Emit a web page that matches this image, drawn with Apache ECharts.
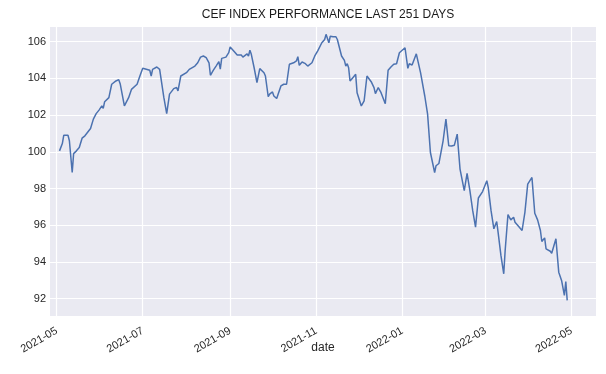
<!DOCTYPE html>
<html>
<head>
<meta charset="utf-8">
<script src="https://cdn.jsdelivr.net/npm/echarts@6/dist/echarts.min.js"></script>
<style>
html,body{margin:0;padding:0;background:#fff;}
#chart{width:606px;height:374px;}
</style>
</head>
<body>
<div id="chart"></div>
<script>
const dates = [
'2021-05-03','2021-05-05','2021-05-06','2021-05-09','2021-05-10','2021-05-12','2021-05-13','2021-05-15','2021-05-17','2021-05-18',
'2021-05-19','2021-05-21','2021-05-25','2021-05-27','2021-05-29','2021-05-31','2021-06-02','2021-06-03','2021-06-04','2021-06-07',
'2021-06-09','2021-06-12','2021-06-14','2021-06-15','2021-06-18','2021-06-21','2021-06-23','2021-06-27','2021-06-29','2021-07-01',
'2021-07-06','2021-07-07','2021-07-08','2021-07-11','2021-07-13','2021-07-16','2021-07-18','2021-07-20','2021-07-23','2021-07-25',
'2021-07-26','2021-07-28','2021-07-29','2021-08-01','2021-08-03','2021-08-07','2021-08-09','2021-08-11','2021-08-13','2021-08-15',
'2021-08-17','2021-08-18','2021-08-20','2021-08-22','2021-08-24','2021-08-25','2021-08-26','2021-08-29','2021-08-31','2021-09-01',
'2021-09-02','2021-09-04','2021-09-06','2021-09-09','2021-09-10','2021-09-13','2021-09-14','2021-09-15','2021-09-16','2021-09-18',
'2021-09-20','2021-09-22','2021-09-25','2021-09-26','2021-09-28','2021-09-29','2021-09-30','2021-10-01','2021-10-02','2021-10-04',
'2021-10-05','2021-10-06','2021-10-07','2021-10-09','2021-10-11','2021-10-13','2021-10-16','2021-10-18','2021-10-19','2021-10-20',
'2021-10-22','2021-10-24','2021-10-26','2021-10-27','2021-10-29','2021-10-31','2021-11-02','2021-11-03','2021-11-05','2021-11-07',
'2021-11-08','2021-11-10','2021-11-11','2021-11-13','2021-11-15','2021-11-16','2021-11-19','2021-11-21','2021-11-22','2021-11-23',
'2021-11-24','2021-11-25','2021-11-27','2021-11-29','2021-11-30','2021-12-01','2021-12-03','2021-12-05','2021-12-07','2021-12-08',
'2021-12-10','2021-12-12','2021-12-13','2021-12-15','2021-12-16','2021-12-17','2021-12-20','2021-12-22','2021-12-24','2021-12-26',
'2021-12-28','2021-12-30','2022-01-03','2022-01-05','2022-01-06','2022-01-08','2022-01-09','2022-01-11','2022-01-14','2022-01-17',
'2022-01-19','2022-01-21','2022-01-24','2022-01-25','2022-01-27','2022-01-30','2022-02-01','2022-02-03','2022-02-05','2022-02-07',
'2022-02-09','2022-02-11','2022-02-14','2022-02-16','2022-02-18','2022-02-20','2022-02-22','2022-02-24','2022-02-27','2022-03-02',
'2022-03-03','2022-03-05','2022-03-07','2022-03-09','2022-03-10','2022-03-12','2022-03-14','2022-03-15','2022-03-17','2022-03-19',
'2022-03-21','2022-03-22','2022-03-24','2022-03-27','2022-03-29','2022-03-31','2022-04-03','2022-04-05','2022-04-07','2022-04-09',
'2022-04-10','2022-04-12','2022-04-13','2022-04-16','2022-04-17','2022-04-20','2022-04-22','2022-04-24','2022-04-26','2022-04-27',
'2022-04-28'
];
const values = [
100.05,100.45,100.90,100.90,100.60,98.87,99.90,100.05,100.23,100.18,
100.74,100.87,101.27,101.78,102.08,102.27,102.50,102.37,102.73,102.95,
103.68,103.86,103.93,103.71,102.50,102.95,103.40,103.68,104.13,104.55,
104.44,104.13,104.49,104.62,104.49,102.95,102.08,103.14,103.44,103.50,
103.32,104.13,104.08,104.31,104.49,104.67,104.85,105.16,105.22,105.13,
104.85,104.17,104.44,104.67,104.91,104.50,105.09,105.16,105.40,105.71,
105.67,105.45,105.27,105.27,105.16,105.34,105.22,105.53,105.31,104.58,
103.77,104.53,104.31,104.13,103.00,103.14,103.04,103.26,103.04,102.90,
103.14,103.04,103.59,103.68,103.68,104.77,104.85,104.95,105.18,104.71,
104.89,104.82,104.67,104.58,104.85,105.22,105.49,105.53,105.94,106.12,
106.40,105.94,106.30,106.27,106.27,106.12,105.22,104.98,104.67,104.80,
104.58,103.86,104.04,104.22,103.22,103.17,102.50,102.77,104.13,104.04,
103.82,103.50,103.17,103.50,103.46,103.22,102.62,104.44,104.62,104.77,
104.80,105.40,105.67,104.55,104.80,104.73,104.71,105.34,104.31,103.04,
102.05,99.96,98.87,99.24,99.36,100.60,101.78,100.33,100.31,100.36,
100.96,99.06,97.88,98.82,97.88,96.79,95.89,97.48,97.83,98.42,
98.06,96.79,95.80,96.20,95.61,94.35,93.35,94.62,96.58,96.29,
96.43,96.16,95.98,95.71,96.70,98.24,98.60,96.65,96.29,95.71,
95.11,95.31,94.71,94.58,94.47,95.26,93.44,92.99,92.17,92.93,
91.90
];
const xTicks = ['2021-05-01','2021-07-01','2021-09-01','2021-11-01','2022-01-01','2022-03-01','2022-05-01'];
const yTicks = [92,94,96,98,100,102,104,106];
const titleText = 'CEF INDEX PERFORMANCE LAST 251 DAYS';
const xName = 'date';

const FONT = '"Liberation Sans", Arial, sans-serif';
const TXT = '#262626';
const ts = s => { const p = s.split(/[- :]/).map(Number); return new Date(p[0], p[1]-1, p[2], p[3]||0, p[4]||0).getTime(); };
const pad = n => (n < 10 ? '0' : '') + n;

const chart = echarts.init(document.getElementById('chart'), null, {renderer: 'canvas'});

const xTickTs = xTicks.map(ts);
const gridLines = [];
xTickTs.forEach(t => gridLines.push({xAxis: t}));
yTicks.forEach(v => gridLines.push({yAxis: v}));

chart.setOption({
  animation: false,
  backgroundColor: '#ffffff',
  title: {
    text: titleText,
    left: 323, top: 4, textAlign: 'center',
    textStyle: {fontFamily: FONT, fontSize: 12, fontWeight: 'normal', color: '#1a1a1a'}
  },
  grid: {
    left: 50, right: 10, top: 27, bottom: 58,
    containLabel: false,
    outerBoundsMode: 'none',
    show: true, backgroundColor: '#EAEAF2', borderWidth: 0
  },
  xAxis: {
    type: 'value',
    min: ts('2021-04-26 06:00'),
    max: ts('2022-05-18 10:00'),
    name: xName,
    nameLocation: 'middle',
    nameGap: 26,
    nameMoveOverlap: false,
    nameTextStyle: {fontFamily: FONT, fontSize: 12, color: TXT},
    axisLine: {show: false},
    axisTick: {show: false},
    splitLine: {show: false},
    axisLabel: {
      customValues: xTickTs,
      rotate: 30,
      margin: 14,
      fontFamily: FONT, fontSize: 11, color: TXT,
      formatter: v => { const d = new Date(v); return d.getFullYear() + '-' + pad(d.getMonth() + 1); }
    }
  },
  yAxis: {
    type: 'value',
    min: 91.05, max: 106.8,
    axisLine: {show: false},
    axisTick: {show: false},
    splitLine: {show: false},
    axisLabel: {
      customValues: yTicks,
      margin: 4,
      fontFamily: FONT, fontSize: 11, color: TXT
    }
  },
  series: [
    {
      type: 'line', data: [], z: 1, silent: true,
      markLine: {
        z: 1,
        silent: true, symbol: ['none','none'], animation: false,
        label: {show: false},
        lineStyle: {color: '#ffffff', width: 1.2, type: 'solid'},
        emphasis: {disabled: true},
        data: gridLines
      }
    },
    {
      type: 'line', z: 10,
      data: dates.map((d, i) => [ts(d), values[i]]),
      showSymbol: false, symbol: 'none',
      lineStyle: {color: '#4C72B0', width: 1.5},
      itemStyle: {color: '#4C72B0'}
    }
  ]
});
</script>
</body>
</html>
